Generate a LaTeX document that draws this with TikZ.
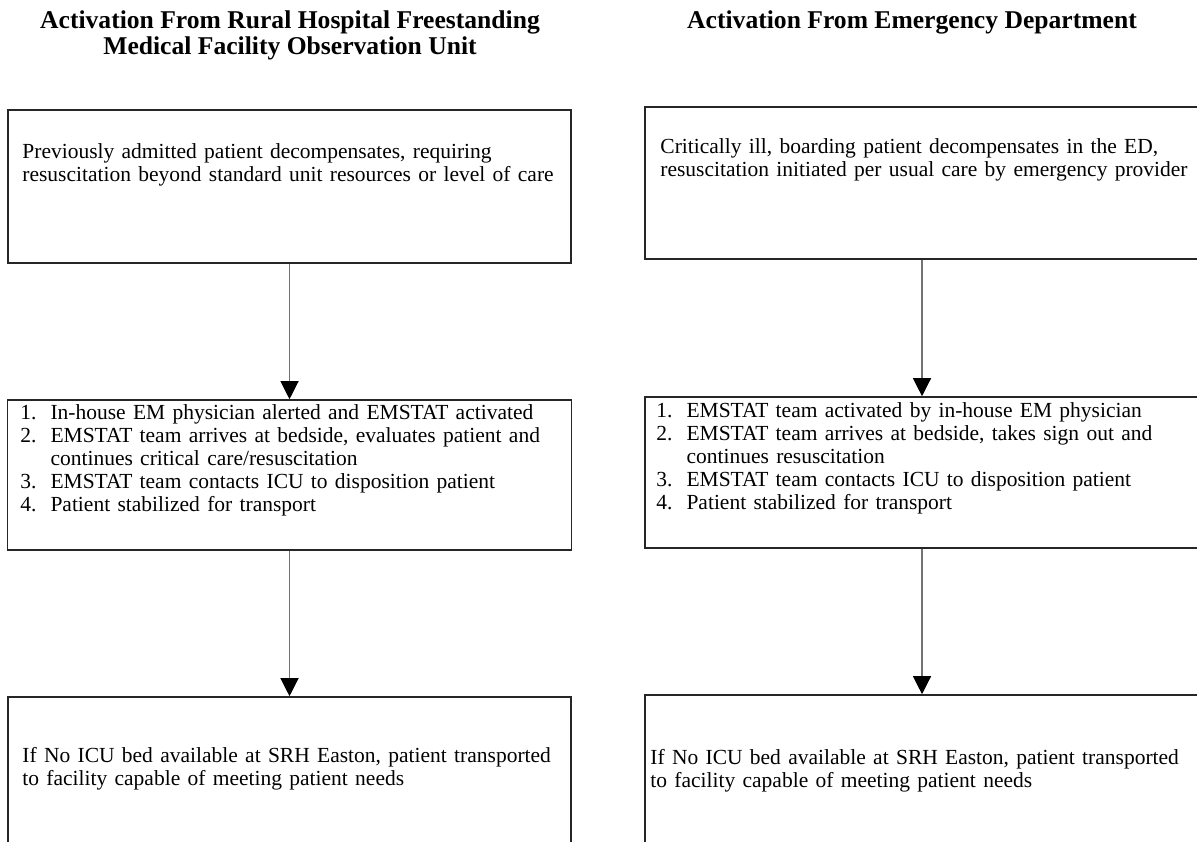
\documentclass[tikz,border=0pt]{standalone}
\usepackage{fontspec}
\setmainfont{Liberation Serif}
\usetikzlibrary{arrows.meta}
\DeclareRobustCommand\boxfont{\fontsize{10.75}{11.5}\selectfont\spaceskip=0.34em plus 0.1em\relax}

\begin{document}
\begin{tikzpicture}[x=0.5pt,y=-0.5pt,
    box/.style={draw=black!85,line width=0.8pt,rectangle,inner sep=0pt},
    body/.style={inner sep=0pt,anchor=west,align=left,font=\boxfont},
    head/.style={inner sep=0pt,align=center,font=\fontsize{12.8}{13}\selectfont\bfseries},
    flow/.style={draw=black!55,line width=0.6pt,-{Triangle[length=9pt,width=9pt,black]}}]
    \useasboundingbox (0,0) rectangle (1197,841);
    % headings
    \node[head] (lhead) at (290,35) {Activation From Rural Hospital Freestanding\\Medical Facility Observation Unit};
    \node[head] (rhead) at (912,22) {Activation From Emergency Department};
    % left column
    \node[box,minimum width=281.5pt,minimum height=76.5pt] (lone) at (289.5,186.5) {};
    \node[box,minimum width=282pt,minimum height=75pt] (ltwo) at (289.5,475) {};
    \node[box,minimum width=281.5pt,minimum height=85pt] (lthree) at (289.5,782) {};
    \node[body] (lonetxt) at (22,164.5) {Previously admitted patient decompensates, requiring\\
        resuscitation beyond standard unit resources or level of care};
    \node[body] (ltwotxt) at (20,461) {\begin{tabular}{@{}l@{\hspace{7pt}}l@{}}
        1. & In-house EM physician alerted and EMSTAT activated\\
        2. & EMSTAT team arrives at bedside, evaluates patient and\\
           & continues critical care/resuscitation\\
        3. & EMSTAT team contacts ICU to disposition patient\\
        4. & Patient stabilized for transport
        \end{tabular}};
    \node[body] (lthreetxt) at (22,768.5) {If No ICU bed available at SRH Easton, patient transported\\
        to facility capable of meeting patient needs};
    % right column
    \node[box,minimum width=277pt,minimum height=76pt] (rone) at (922,183) {};
    \node[box,minimum width=277pt,minimum height=75.5pt] (rtwo) at (922,472.5) {};
    \node[box,minimum width=277pt,minimum height=85pt] (rthree) at (922,780) {};
    \node[body] (ronetxt) at (660,159.5) {Critically ill, boarding patient decompensates in the ED,\\
        resuscitation initiated per usual care by emergency provider};
    \node[body] (rtwotxt) at (656,459) {\begin{tabular}{@{}l@{\hspace{7pt}}l@{}}
        1. & EMSTAT team activated by in-house EM physician\\
        2. & EMSTAT team arrives at bedside, takes sign out and\\
           & continues resuscitation\\
        3. & EMSTAT team contacts ICU to disposition patient\\
        4. & Patient stabilized for transport
        \end{tabular}};
    \node[body] (rthreetxt) at (650,771) {If No ICU bed available at SRH Easton, patient transported\\
        to facility capable of meeting patient needs};
    % arrows
    \draw[flow] (lone) -- (ltwo);
    \draw[flow] (ltwo) -- (lthree);
    \draw[flow] (rone) -- (rtwo);
    \draw[flow] (rtwo) -- (rthree);
\end{tikzpicture}
\end{document}
